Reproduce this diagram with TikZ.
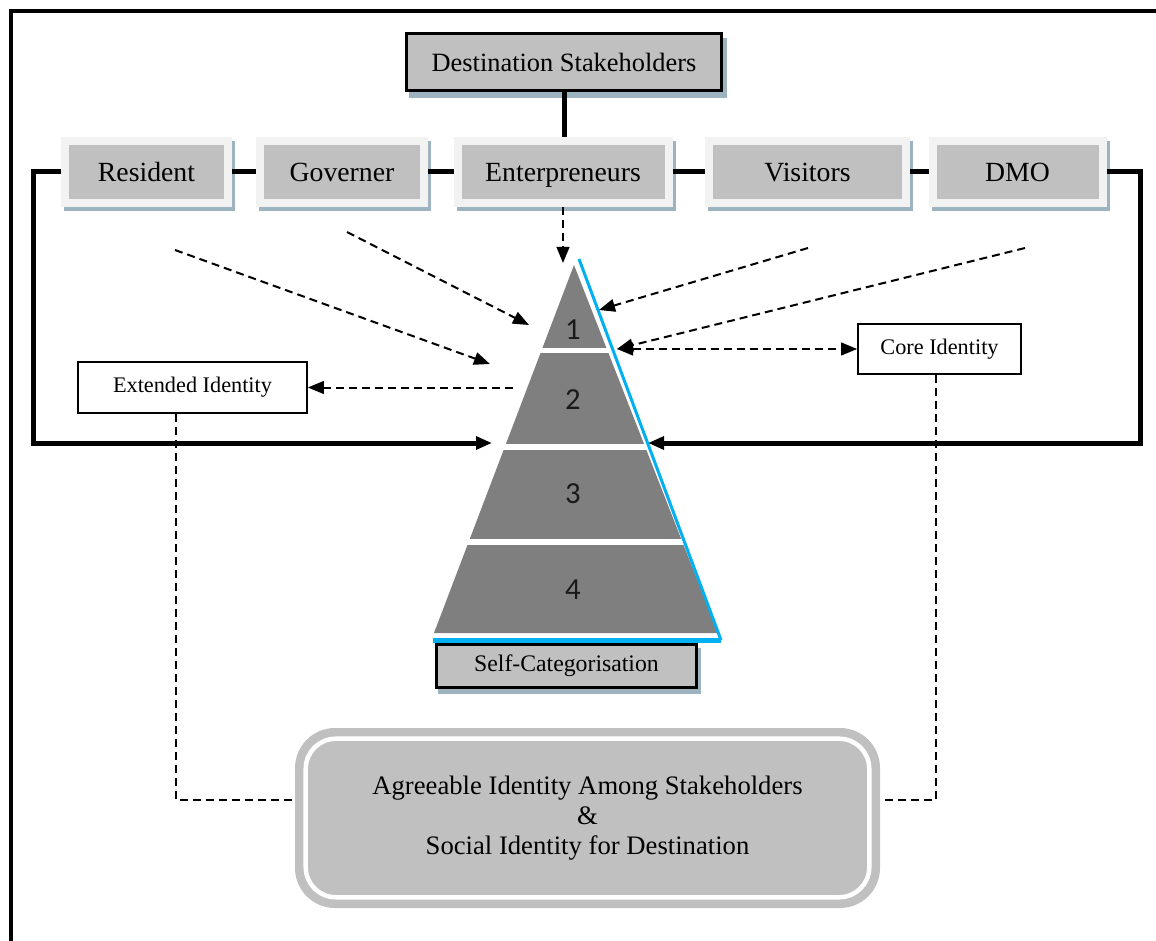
\documentclass[tikz,border=0pt]{standalone}
\usepackage{fontspec}
\setmainfont{Liberation Serif}
\newfontfamily\digitfont{Carlito}
\usetikzlibrary{arrows.meta,backgrounds}
\newdimen\pxu
\pxu=0.75pt
\definecolor{boxgray}{HTML}{C0C0C0}
\definecolor{framegray}{HTML}{F2F2F2}
\definecolor{shadowc}{HTML}{9DB3BF}
\definecolor{pyrgray}{HTML}{7F7F7F}
\definecolor{edgeblue}{HTML}{00B0F0}
\definecolor{digitc}{HTML}{1A1A1A}

\tikzset{
  stakebox/.style={draw=framegray, line width=8\pxu, fill=boxgray,
    minimum height=62\pxu, inner sep=0pt, text height=13.7pt, text depth=0pt,
    font=\fontsize{20.8pt}{25pt}\selectfont},
  headbox/.style={draw=black, line width=3\pxu, fill=boxgray,
    minimum width=315\pxu, minimum height=57\pxu, inner sep=0pt,
    font=\fontsize{19.8pt}{24pt}\selectfont},
  idbox/.style={draw=black, line width=1.6\pxu, fill=white, inner sep=0pt,
    font=\fontsize{16.7pt}{20pt}\selectfont},
  catbox/.style={draw=black, line width=3\pxu, fill=boxgray, inner sep=0pt,
    minimum width=260\pxu, minimum height=43\pxu,
    font=\fontsize{17.8pt}{21pt}\selectfont},
  agreebox/.style={fill=boxgray, rounded corners=40\pxu, inner sep=0pt,
    minimum width=585\pxu, minimum height=180\pxu, align=center,
    font=\fontsize{20pt}{22.5pt}\selectfont},
  levelnum/.style={font=\digitfont\fontsize{23pt}{26pt}\selectfont,
    text=digitc, inner sep=0pt},
  solidlink/.style={line width=5\pxu},
  dashlink/.style={line width=2\pxu, dash pattern=on 8\pxu off 5\pxu},
  headarrow/.style={-{Triangle[length=12pt,width=9.5pt]}},
  bothheads/.style={{Triangle[length=12pt,width=9.5pt]}-{Triangle[length=12pt,width=9.5pt]}},
  boxshadow/.style={fill=shadowc},
}

\begin{document}
\begin{tikzpicture}[x=0.75pt, y=-0.75pt]
\useasboundingbox (0,0) rectangle (1156,941);

% page frame (top and left rules)
\draw[line width=4\pxu] (11,941) -- (11,11) -- (1156,11);

% ---- pyramid of self-categorisation levels ----
\coordinate (apex) at (574,265);
\coordinate (baseL) at (434,633);
\coordinate (baseR) at (718,633);
\fill[pyrgray] (apex) -- (baseL) -- (baseR) -- cycle;
\draw[white, line width=5\pxu] (530,350.5) -- (620,350.5);
\draw[white, line width=6\pxu] (495,447) -- (652,447);
\draw[white, line width=6\pxu] (460,542) -- (690,542);
\node[levelnum] (lv1) at (573,330) {1};
\node[levelnum] (lv2) at (573,400) {2};
\node[levelnum] (lv3) at (573,494) {3};
\node[levelnum] (lv4) at (573,590) {4};

% self-categorisation label under the pyramid
\node[catbox] (cat) at (566.5,665.5) {Self-Categorisation};
\begin{scope}[on background layer]
  \fill[boxshadow] ([shift={(3,5)}]cat.north west) rectangle ([shift={(3,5)}]cat.south east);
\end{scope}
\coordinate (blueTop) at (579,259);
\coordinate (blueCorner) at (721,640);
\coordinate (blueLeft) at (433,640);
\draw[edgeblue, line width=3\pxu] (blueTop) -- (blueCorner);
\draw[edgeblue, line width=5\pxu] (blueLeft) -- (blueCorner);

% ---- stakeholder boxes ----
\node[headbox] (ds) at (564,62) {Destination Stakeholders};
\node[stakebox, minimum width=163\pxu] (res) at (146.5,172) {Resident};
\node[stakebox, minimum width=164\pxu] (gov) at (342,172) {Governer};
\node[stakebox, minimum width=211\pxu] (ent) at (563,172) {Enterpreneurs};
\node[stakebox, minimum width=197\pxu] (vis) at (807.5,172) {Visitors};
\node[stakebox, minimum width=170\pxu] (dmo) at (1017.5,172) {DMO};
\begin{scope}[on background layer]
  \fill[boxshadow] ([shift={(4,6)}]ds.north west) rectangle ([shift={(4,6)}]ds.south east);
  \foreach \b in {res,gov,ent,vis,dmo}
    \fill[boxshadow] ([shift={(3,4)}]\b.north west) rectangle ([shift={(3,4)}]\b.south east);
\end{scope}

% ---- identity boxes ----
\node[idbox, minimum width=229\pxu, minimum height=51\pxu] (ext) at (192.5,387.5) {Extended Identity};
\node[idbox, minimum width=163\pxu, minimum height=50\pxu] (core) at (939.5,349) {Core Identity};

\node[agreebox] (agree) at (587.5,818) {Agreeable Identity Among Stakeholders\\ \&\\ Social Identity for Destination};
\draw[white, line width=4.5\pxu, rounded corners=30\pxu]
  ([shift={(11,-11)}]agree.south west) rectangle ([shift={(-11,11)}]agree.north east);

% ---- solid connectors ----
\draw[solidlink] (ds.south) -- (ds.south |- ent.north);
\draw[solidlink] (res.east) -- (gov.west);
\draw[solidlink] (gov.east) -- (ent.west);
\draw[solidlink] (ent.east) -- (vis.west);
\draw[solidlink] (vis.east) -- (dmo.west);
\coordinate (loopL) at (33,443);
\coordinate (inL) at (492,443);
\coordinate (loopR) at (1140,443);
\coordinate (inR) at (648,443);
\draw[solidlink, headarrow] (res.west) -| (loopL) -- (inL);
\draw[solidlink, headarrow] (dmo.east) -| (loopR) -- (inR);

% ---- dashed influences ----
\coordinate (tipTop) at (563,263);
\draw[dashlink, headarrow] (ent.south) -- (tipTop);
\coordinate (fromA) at (175,250);
\coordinate (toA) at (490,364);
\coordinate (fromB) at (347,232);
\coordinate (toB) at (529,325);
\coordinate (fromC) at (808,248);
\coordinate (toC) at (599,310);
\coordinate (fromD) at (1025,248);
\coordinate (toD) at (617,349);
\draw[dashlink, headarrow] (fromA) -- (toA);
\draw[dashlink, headarrow] (fromB) -- (toB);
\draw[dashlink, headarrow] (fromC) -- (toC);
\draw[dashlink, headarrow] (fromD) -- (toD);
\draw[dashlink, bothheads] (toD) -- (core.west);
\coordinate (extFrom) at (513,387.5);
\draw[dashlink, headarrow] (extFrom) -- (ext.east);

% ---- dashed links down to the shared identity ----
\coordinate (joinL) at (176,800);
\coordinate (joinR) at (936,800);
\draw[dashlink] (ext.south -| joinL) -- (joinL) -- (joinL -| agree.west);
\draw[dashlink] (core.south -| joinR) -- (joinR) -- (joinR -| agree.east);
\end{tikzpicture}
\end{document}
